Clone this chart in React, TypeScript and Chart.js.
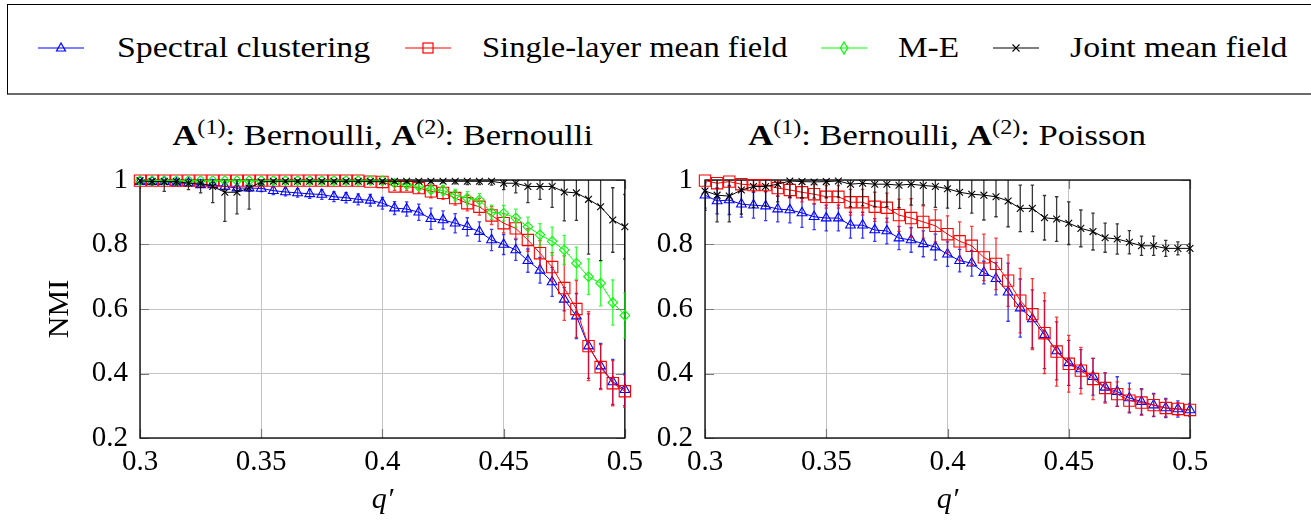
import React, { useEffect, useRef } from 'react';
import { Chart, registerables } from 'chart.js';

Chart.register(...registerables);

// ---------------- data ----------------
const qValues = [
  0.3, 0.305, 0.31, 0.315, 0.32, 0.325, 0.33, 0.335, 0.34, 0.345,
  0.35, 0.355, 0.36, 0.365, 0.37, 0.375, 0.38, 0.385, 0.39, 0.395,
  0.4, 0.405, 0.41, 0.415, 0.42, 0.425, 0.43, 0.435, 0.44, 0.445,
  0.45, 0.455, 0.46, 0.465, 0.47, 0.475, 0.48, 0.485, 0.49, 0.495, 0.5,
];

const xTickValues = [0.3, 0.35, 0.4, 0.45, 0.5];
const xTickLabels = ['0.3', '0.35', '0.4', '0.45', '0.5'];
const yTickValues = [0.2, 0.4, 0.6, 0.8, 1];
const yTickLabels = ['0.2', '0.4', '0.6', '0.8', '1'];

const seriesNames = ['Spectral clustering', 'Single-layer mean field', 'M-E', 'Joint mean field'];

// Left panel: A(1) Bernoulli, A(2) Bernoulli
const leftSpectral = [
  0.995, 0.995, 0.995, 0.99, 0.99, 0.985, 0.985, 0.98, 0.975, 0.975,
  0.974, 0.967, 0.963, 0.96, 0.957, 0.955, 0.948, 0.945, 0.94, 0.937,
  0.928, 0.913, 0.91, 0.9, 0.88, 0.876, 0.866, 0.855, 0.84, 0.814,
  0.8, 0.783, 0.75, 0.72, 0.684, 0.63, 0.578, 0.485, 0.423, 0.374, 0.35,
];
const leftSpectralErr = [
  0.003, 0.004, 0.005, 0.006, 0.006, 0.007, 0.008, 0.008, 0.009, 0.01,
  0.01, 0.012, 0.012, 0.013, 0.014, 0.015, 0.015, 0.016, 0.017, 0.018,
  0.018, 0.02, 0.022, 0.025, 0.033, 0.028, 0.03, 0.028, 0.03, 0.033,
  0.031, 0.032, 0.036, 0.04, 0.045, 0.036, 0.07, 0.1, 0.07, 0.07, 0.05,
];
const leftSingle = [
  0.998, 0.998, 0.998, 0.998, 0.998, 0.998, 0.998, 0.998, 0.998, 0.998,
  0.998, 0.998, 0.998, 0.998, 0.998, 0.998, 0.998, 0.998, 0.998, 0.995,
  0.994, 0.98, 0.98, 0.975, 0.965, 0.96, 0.944, 0.928, 0.917, 0.89,
  0.866, 0.85, 0.814, 0.773, 0.73, 0.665, 0.6, 0.485, 0.42, 0.37, 0.345,
];
const leftSingleErr = [
  0.002, 0.002, 0.002, 0.002, 0.002, 0.002, 0.002, 0.002, 0.002, 0.002,
  0.002, 0.002, 0.002, 0.002, 0.002, 0.002, 0.002, 0.002, 0.002, 0.005,
  0.008, 0.012, 0.012, 0.015, 0.02, 0.02, 0.022, 0.024, 0.026, 0.028,
  0.03, 0.031, 0.035, 0.039, 0.045, 0.1, 0.088, 0.107, 0.07, 0.07, 0.05,
];
const leftME = [
  0.998, 0.998, 0.998, 0.998, 0.998, 0.998, 0.998, 0.998, 0.998, 0.998,
  0.998, 0.998, 0.998, 0.998, 0.998, 0.998, 0.998, 0.998, 0.998, 0.998,
  0.998, 0.99, 0.985, 0.98, 0.97, 0.968, 0.953, 0.944, 0.938, 0.9,
  0.897, 0.882, 0.855, 0.83, 0.81, 0.783, 0.742, 0.7, 0.68, 0.62, 0.58,
];
const leftMEErr = [
  0.002, 0.002, 0.002, 0.002, 0.002, 0.002, 0.002, 0.002, 0.002, 0.002,
  0.002, 0.002, 0.002, 0.002, 0.002, 0.002, 0.002, 0.002, 0.002, 0.002,
  0.002, 0.006, 0.008, 0.01, 0.012, 0.015, 0.018, 0.02, 0.02, 0.022,
  0.024, 0.028, 0.03, 0.035, 0.044, 0.045, 0.05, 0.055, 0.07, 0.07, 0.07,
];
const leftJoint = [
  0.998, 0.995, 0.995, 0.995, 0.99, 0.99, 0.98, 0.962, 0.962, 0.975,
  0.994, 0.996, 0.996, 0.996, 0.996, 0.996, 0.996, 0.996, 0.996, 0.996,
  0.996, 0.996, 0.996, 0.996, 0.996, 0.996, 0.996, 0.996, 0.996, 0.996,
  0.99, 0.99, 0.98, 0.98, 0.98, 0.963, 0.96, 0.94, 0.917, 0.876, 0.855,
];
const leftJointErr = [
  0.01, 0.01, 0.03, 0.01, 0.02, 0.03, 0.05, 0.09, 0.067, 0.065,
  0.01, 0.005, 0.005, 0.005, 0.005, 0.005, 0.005, 0.005, 0.005, 0.005,
  0.005, 0.005, 0.005, 0.005, 0.005, 0.005, 0.008, 0.01, 0.01, 0.012,
  0.02, 0.03, 0.05, 0.04, 0.065, 0.09, 0.085, 0.17, 0.167, 0.1, 0.1,
];

// Right panel: A(1) Bernoulli, A(2) Poisson
const rightSpectral = [
  0.953, 0.935, 0.938, 0.925, 0.922, 0.919, 0.91, 0.907, 0.898, 0.886,
  0.882, 0.882, 0.86, 0.86, 0.845, 0.842, 0.82, 0.814, 0.802, 0.792,
  0.77, 0.75, 0.742, 0.713, 0.694, 0.652, 0.603, 0.569, 0.52, 0.47,
  0.433, 0.414, 0.39, 0.357, 0.344, 0.324, 0.313, 0.302, 0.293, 0.29, 0.287,
];
const rightSpectralErr = [
  0.04, 0.04, 0.045, 0.04, 0.04, 0.045, 0.04, 0.04, 0.045, 0.04,
  0.04, 0.04, 0.04, 0.04, 0.035, 0.04, 0.036, 0.038, 0.04, 0.04,
  0.038, 0.035, 0.04, 0.035, 0.05, 0.09, 0.09, 0.09, 0.105, 0.09,
  0.07, 0.06, 0.057, 0.045, 0.046, 0.046, 0.04, 0.036, 0.03, 0.025, 0.02,
];
const rightSingle = [
  0.998, 0.99, 0.995, 0.987, 0.984, 0.984, 0.975, 0.969, 0.962, 0.956,
  0.948, 0.948, 0.931, 0.931, 0.917, 0.914, 0.891, 0.882, 0.87, 0.858,
  0.832, 0.81, 0.796, 0.76, 0.74, 0.688, 0.626, 0.584, 0.525, 0.468,
  0.43, 0.409, 0.383, 0.355, 0.336, 0.316, 0.31, 0.302, 0.293, 0.29, 0.287,
];
const rightSingleErr = [
  0.01, 0.015, 0.015, 0.02, 0.02, 0.02, 0.025, 0.025, 0.03, 0.03,
  0.035, 0.035, 0.04, 0.04, 0.045, 0.045, 0.05, 0.06, 0.05, 0.05,
  0.057, 0.06, 0.06, 0.072, 0.08, 0.08, 0.1, 0.11, 0.125, 0.107,
  0.088, 0.072, 0.064, 0.047, 0.038, 0.036, 0.04, 0.034, 0.026, 0.02, 0.015,
];
const rightJoint = [
  0.966, 0.953, 0.95, 0.969, 0.98, 0.98, 0.987, 0.997, 0.995, 0.994,
  0.995, 0.997, 0.987, 0.99, 0.987, 0.987, 0.984, 0.987, 0.983, 0.98,
  0.973, 0.962, 0.956, 0.953, 0.948, 0.935, 0.912, 0.912, 0.883, 0.879,
  0.866, 0.85, 0.84, 0.821, 0.817, 0.807, 0.796, 0.796, 0.788, 0.788, 0.788,
];
const rightJointErr = [
  0.06, 0.083, 0.08, 0.075, 0.065, 0.06, 0.055, 0.05, 0.05, 0.05,
  0.05, 0.05, 0.07, 0.07, 0.07, 0.07, 0.07, 0.065, 0.06, 0.065,
  0.06, 0.05, 0.059, 0.077, 0.062, 0.08, 0.072, 0.072, 0.069, 0.069,
  0.066, 0.057, 0.057, 0.045, 0.047, 0.036, 0.03, 0.03, 0.025, 0.02, 0.015,
];

// ---------------- styling ----------------
const FONT = '"Liberation Serif", "DejaVu Serif", serif';
const BLUE = 'rgb(0,0,255)';
const RED = 'rgb(255,0,0)';
const GREEN = 'rgb(0,255,0)';
const BLACK = 'rgb(0,0,0)';

const errorBarPlugin = {
  id: 'errorBars',
  beforeDatasetDraw(chart: any, args: any) {
    const ds = chart.data.datasets[args.index];
    const errs: number[] | undefined = ds.errors;
    if (!errs) return;
    const ys = chart.scales.y;
    const a = chart.chartArea;
    const ctx = chart.ctx;
    ctx.save();
    ctx.beginPath();
    ctx.rect(a.left, a.top, a.right - a.left, a.bottom - a.top);
    ctx.clip();
    ctx.strokeStyle = ds.borderColor;
    ctx.globalAlpha = 0.78;
    ctx.lineWidth = 1.3;
    args.meta.data.forEach((pt: any, i: number) => {
      const v = ds.data[i].y;
      const e = errs[i];
      const y1 = ys.getPixelForValue(v + e);
      const y2 = ys.getPixelForValue(v - e);
      ctx.beginPath();
      ctx.moveTo(pt.x, y1);
      ctx.lineTo(pt.x, y2);
      ctx.moveTo(pt.x - 1.7, y1);
      ctx.lineTo(pt.x + 1.7, y1);
      ctx.moveTo(pt.x - 1.7, y2);
      ctx.lineTo(pt.x + 1.7, y2);
      ctx.stroke();
    });
    ctx.restore();
  },
};

const framePlugin = {
  id: 'frame',
  beforeDatasetsDraw(chart: any) {
    const { ctx, chartArea: a, scales } = chart;
    const xs = scales.x;
    const ys = scales.y;
    ctx.save();
    ctx.strokeStyle = '#7a7a7a';
    ctx.lineWidth = 1.2;
    ctx.beginPath();
    xs.ticks.forEach((t: any) => {
      const px = Math.round(xs.getPixelForValue(t.value)) + 0.5;
      ctx.moveTo(px, a.bottom);
      ctx.lineTo(px, a.bottom - 9);
      ctx.moveTo(px, a.top);
      ctx.lineTo(px, a.top + 9);
    });
    ys.ticks.forEach((t: any) => {
      const py = Math.round(ys.getPixelForValue(t.value)) + 0.5;
      ctx.moveTo(a.left, py);
      ctx.lineTo(a.left + 9, py);
      ctx.moveTo(a.right, py);
      ctx.lineTo(a.right - 9, py);
    });
    ctx.stroke();
    ctx.strokeStyle = '#000';
    ctx.lineWidth = 1.3;
    ctx.strokeRect(a.left, a.top, a.right - a.left, a.bottom - a.top);
    ctx.restore();
  },
};

type SeriesSpec = { values: number[]; errors: number[]; color: string; style: string; radius: number; order: number; label: string };

function buildDatasets(specs: SeriesSpec[]) {
  return specs.map((s) => ({
    label: s.label,
    data: qValues.map((q, i) => ({ x: q, y: s.values[i] })),
    errors: s.errors,
    borderColor: s.color,
    backgroundColor: s.color,
    borderWidth: 1,
    pointStyle: s.style,
    pointRadius: s.radius,
    pointBorderWidth: 1.1,
    pointBorderColor: s.color,
    pointBackgroundColor: 'rgba(255,255,255,0)',
    tension: 0,
    fill: false,
    clip: false as any,
    order: s.order,
  }));
}

type PanelProps = {
  left: number;
  top: number;
  width: number;
  height: number;
  yWidth: number;
  padRight: number;
  showYTitle: boolean;
  specs: SeriesSpec[];
};

function Panel(props: PanelProps) {
  const ref = useRef<HTMLCanvasElement>(null);
  useEffect(() => {
    const canvas = ref.current!;
    const chart = new Chart(canvas, {
      type: 'line',
      data: { datasets: buildDatasets(props.specs) as any },
      options: {
        animation: false,
        responsive: false,
        maintainAspectRatio: false,
        events: [],
        layout: { padding: { top: 30, right: props.padRight, left: 0, bottom: 0 } },
        plugins: { legend: { display: false }, title: { display: false }, tooltip: { enabled: false } },
        scales: {
          x: {
            type: 'linear',
            min: 0.3,
            max: 0.5,
            afterBuildTicks: (s: any) => {
              s.ticks = xTickValues.map((v) => ({ value: v }));
            },
            afterFit: (s: any) => {
              s.height = props.height - 30 - 258;
            },
            ticks: {
              callback: (_v: any, i: number) => xTickLabels[i],
              font: { family: FONT, size: 29 },
              color: '#000',
              padding: 7,
              maxRotation: 0,
              autoSkip: false,
            },
            grid: { color: '#c4c4c4', lineWidth: 1, drawTicks: false },
            border: { display: false },
            title: {
              display: true,
              text: 'q′',
              font: { family: FONT, size: 30, style: 'italic' },
              color: '#000',
              padding: { top: 0, bottom: 3 },
            },
          },
          y: {
            type: 'linear',
            min: 0.2,
            max: 1,
            afterBuildTicks: (s: any) => {
              s.ticks = yTickValues.map((v) => ({ value: v }));
            },
            afterFit: (s: any) => {
              s.width = props.yWidth;
            },
            ticks: {
              callback: (_v: any, i: number) => yTickLabels[i],
              font: { family: FONT, size: 29 },
              color: '#000',
              padding: 12,
              autoSkip: false,
            },
            grid: { color: '#c4c4c4', lineWidth: 1, drawTicks: false },
            border: { display: false },
            title: {
              display: props.showYTitle,
              text: 'NMI',
              font: { family: FONT, size: 30 },
              color: '#000',
              padding: { top: 42, bottom: 0 },
            },
          },
        },
      } as any,
      plugins: [framePlugin, errorBarPlugin],
    });
    return () => chart.destroy();
  }, []);
  return (
    <canvas
      ref={ref}
      width={props.width}
      height={props.height}
      style={{ position: 'absolute', left: props.left, top: props.top, width: props.width, height: props.height }}
    />
  );
}

function LegendMarker({ kind, color }: { kind: string; color: string }) {
  const c = 23;
  const y = 12;
  let mark: any = null;
  if (kind === 'triangle') mark = <polygon points={`${c},${y - 5} ${c - 4.5},${y + 3} ${c + 4.5},${y + 3}`} fill="none" stroke={color} strokeWidth={1.2} />;
  if (kind === 'square') mark = <rect x={c - 5} y={y - 5} width={10} height={10} fill="none" stroke={color} strokeWidth={1.2} />;
  if (kind === 'diamond') mark = <polygon points={`${c},${y - 6} ${c + 3.6},${y} ${c},${y + 6} ${c - 3.6},${y}`} fill="none" stroke={color} strokeWidth={1.2} />;
  if (kind === 'cross')
    mark = (
      <g stroke={color} strokeWidth={1.2}>
        <line x1={c - 3.5} y1={y - 3.5} x2={c + 3.5} y2={y + 3.5} />
        <line x1={c - 3.5} y1={y + 3.5} x2={c + 3.5} y2={y - 3.5} />
      </g>
    );
  return (
    <svg width={46} height={24} style={{ display: 'block' }}>
      <line x1={0} y1={y} x2={46} y2={y} stroke={color} strokeWidth={1.2} />
      {mark}
    </svg>
  );
}

const legendItems = [
  { name: seriesNames[0], kind: 'triangle', color: BLUE, lineX: 38, textX: 117, stretch: 1.13 },
  { name: seriesNames[1], kind: 'square', color: RED, lineX: 405, textX: 482, stretch: 1.085 },
  { name: seriesNames[2], kind: 'diamond', color: GREEN, lineX: 821, textX: 898, stretch: 1.11 },
  { name: seriesNames[3], kind: 'cross', color: BLACK, lineX: 993, textX: 1070, stretch: 1.125 },
];

function Title({ left, width, second }: { left: number; width: number; second: string }) {
  const sup: any = { fontSize: '0.7em', position: 'relative', top: '-0.55em' };
  return (
    <div
      style={{
        position: 'absolute',
        left,
        top: 121,
        width,
        textAlign: 'center',
        fontFamily: FONT,
        fontSize: 29,
        lineHeight: '29px',
        whiteSpace: 'nowrap',
        color: '#000',
      }}
    >
      <span style={{ display: 'inline-block', transform: 'scaleX(1.19)' }}>
        <b>A</b>
        <span style={sup}>(1)</span>: Bernoulli, <b>A</b>
        <span style={sup}>(2)</span>: {second}
      </span>
    </div>
  );
}

export default function App() {
  const leftSpecs: SeriesSpec[] = [
    { label: seriesNames[0], values: leftSpectral, errors: leftSpectralErr, color: BLUE, style: 'triangle', radius: 5.6, order: 4 },
    { label: seriesNames[1], values: leftSingle, errors: leftSingleErr, color: RED, style: 'rect', radius: 8, order: 3 },
    { label: seriesNames[2], values: leftME, errors: leftMEErr, color: GREEN, style: 'rectRot', radius: 4.8, order: 2 },
    { label: seriesNames[3], values: leftJoint, errors: leftJointErr, color: BLACK, style: 'crossRot', radius: 4.8, order: 1 },
  ];
  const rightSpecs: SeriesSpec[] = [
    { label: seriesNames[0], values: rightSpectral, errors: rightSpectralErr, color: BLUE, style: 'triangle', radius: 5.6, order: 4 },
    { label: seriesNames[1], values: rightSingle, errors: rightSingleErr, color: RED, style: 'rect', radius: 8, order: 3 },
    { label: seriesNames[3], values: rightJoint, errors: rightJointErr, color: BLACK, style: 'crossRot', radius: 4.8, order: 1 },
  ];
  return (
    <div style={{ position: 'absolute', left: 0, top: 0, width: 1311, height: 521, overflow: 'hidden', background: '#fff' }}>
      <div
        style={{
          position: 'absolute',
          left: 7,
          top: 4,
          width: 1330,
          height: 91,
          boxSizing: 'border-box',
          borderTop: '1px solid #000',
          borderLeft: '1px solid #000',
          borderBottom: '2px solid #6a6a6a',
        }}
      />
      {legendItems.map((it) => (
        <React.Fragment key={it.name}>
          <div style={{ position: 'absolute', left: it.lineX, top: 36 }}>
            <LegendMarker kind={it.kind} color={it.color} />
          </div>
          <div
            style={{
              position: 'absolute',
              left: it.textX,
              top: 32,
              fontFamily: FONT,
              fontSize: 30,
              lineHeight: '30px',
              whiteSpace: 'nowrap',
              color: '#000',
              transform: `scaleX(${it.stretch})`,
              transformOrigin: 'left center',
            }}
          >
            {it.name}
          </div>
        </React.Fragment>
      ))}
      <Title left={140} width={486} second="Bernoulli" />
      <Title left={705} width={485} second="Poisson" />
      <Panel left={0} top={150} width={650} height={371} yWidth={140} padRight={24} showYTitle={true} specs={leftSpecs} />
      <Panel left={650} top={150} width={661} height={371} yWidth={55} padRight={121} showYTitle={false} specs={rightSpecs} />
    </div>
  );
}
